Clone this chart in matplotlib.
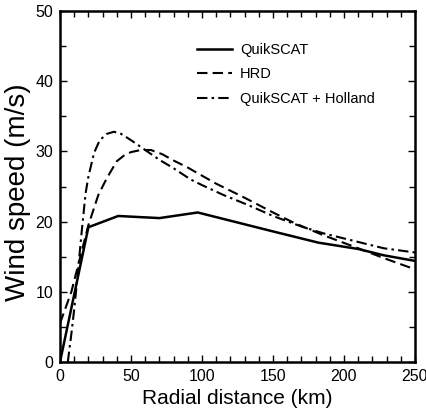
import matplotlib
matplotlib.use("Agg")
import matplotlib.pyplot as plt
from matplotlib.ticker import MultipleLocator

plt.rcParams['font.family'] = ['Liberation Sans', 'DejaVu Sans']

# QuikSCAT
qs_r = [0, 20, 41, 70, 97, 150, 182, 210, 228, 250]
qs_v = [0, 19.2, 20.8, 20.5, 21.3, 18.6, 17.0, 16.1, 15.2, 14.4]

# HRD
hrd_r = [0, 8, 20, 27, 33, 40, 45, 50, 57, 64, 72, 80, 90, 96, 110, 130, 150, 165, 185, 210, 228, 250]
hrd_v = [5.5, 10, 19.5, 23.8, 26.2, 28.6, 29.4, 29.9, 30.2, 30.2, 29.6, 28.7, 27.7, 27.0, 25.4, 23.4, 21.3, 19.8, 18.1, 16.2, 14.8, 13.2]

# QuikSCAT + Holland
hol_r = [5.5, 8, 10, 12, 15, 18, 20, 24, 28, 33, 38, 43, 50, 60, 70, 80, 92, 100, 115, 132, 150, 170, 186, 210, 228, 250]
hol_v = [0, 4, 7.5, 11.5, 18, 24, 26.4, 29.8, 31.6, 32.5, 32.8, 32.5, 31.6, 30.2, 28.8, 27.6, 26.0, 25.2, 23.8, 22.4, 20.8, 19.3, 18.3, 17.1, 16.2, 15.6]

fig = plt.figure(figsize=(4.27, 4.20), dpi=100)
ax = fig.add_axes([60/427, 1-362/420, 355/427, 351/420])

ax.plot(qs_r, qs_v, color='black', lw=1.8, ls='-', label='QuikSCAT')
ax.plot(hrd_r, hrd_v, color='black', lw=1.5, ls=(0, (5, 2.5)), label='HRD')
ax.plot(hol_r, hol_v, color='black', lw=1.5, ls=(0, (5, 2, 1.2, 2)), label='QuikSCAT + Holland')

ax.set_xlim(0, 250)
ax.set_ylim(0, 50)
ax.xaxis.set_major_locator(MultipleLocator(50))
ax.xaxis.set_minor_locator(MultipleLocator(10))
ax.yaxis.set_major_locator(MultipleLocator(10))
ax.yaxis.set_minor_locator(MultipleLocator(5))
ax.tick_params(which='both', direction='in', top=True, right=True, labelsize=11.5, width=1)
ax.tick_params(which='major', length=5, pad=5)
ax.tick_params(which='minor', length=4)
for s in ax.spines.values():
    s.set_linewidth(1.8)

ax.set_xlabel('Radial distance (km)', fontsize=15)
ax.set_ylabel('Wind speed (m/s)', fontsize=20)
ax.xaxis.set_label_coords(0.5, -0.078)
ax.yaxis.set_label_coords((31-60)/355, 0.484)

leg = ax.legend(loc='upper left', bbox_to_anchor=((197-60)/355, (362-43)/351), frameon=False,
                fontsize=10.5, handlelength=2.4, handletextpad=0.55, labelspacing=0.72,
                borderpad=0, borderaxespad=0)

fig.savefig('out.png', dpi=100)
